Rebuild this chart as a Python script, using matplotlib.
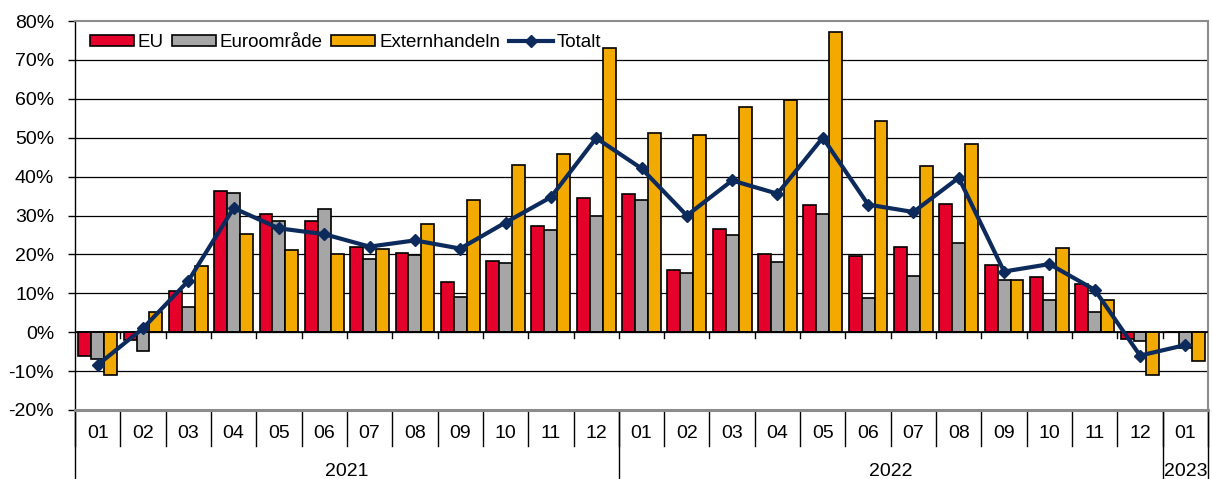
import matplotlib
matplotlib.use("Agg")
import matplotlib.pyplot as plt
from matplotlib.patches import Patch
from matplotlib.lines import Line2D
import matplotlib.transforms as mtransforms

plt.rcParams['font.family'] = ['Liberation Sans', 'DejaVu Sans']

months = ["01", "02", "03", "04", "05", "06", "07", "08", "09", "10", "11", "12",
          "01", "02", "03", "04", "05", "06", "07", "08", "09", "10", "11", "12",
          "01"]
years = ["2021", "2022", "2023"]
year_counts = [12, 12, 1]

eu = [-6.1, -2.0, 10.6, 36.2, 30.4, 28.5, 21.8, 20.3, 13.0, 18.3, 27.2, 34.6,
      35.5, 15.9, 26.6, 20.0, 32.6, 19.7, 22.0, 33.0, 17.3, 14.2, 12.4, -1.8,
      0.0]
euro = [-7.0, -4.8, 6.4, 35.8, 28.7, 31.6, 18.9, 19.8, 9.0, 17.9, 26.4, 29.9,
        33.9, 15.2, 25.0, 18.1, 30.4, 8.9, 14.5, 23.0, 13.3, 8.4, 5.2, -2.2,
        -4.1]
extern = [-11.1, 5.2, 17.1, 25.3, 21.2, 20.2, 21.5, 27.7, 34.1, 43.1, 45.8, 73.0,
          51.2, 50.7, 57.8, 59.8, 77.2, 54.2, 42.6, 48.5, 13.3, 21.7, 8.3, -11.0,
          -7.3]
totalt = [-8.4, 1.0, 13.2, 31.9, 26.7, 25.2, 22.0, 23.6, 21.5, 28.2, 34.7, 49.9,
          42.1, 30.0, 39.0, 35.6, 50.0, 32.8, 30.9, 39.7, 15.6, 17.5, 10.9, -6.0,
          -3.3]

C_EU = "#E4002B"
C_EURO = "#A6A6A6"
C_EXT = "#F2A900"
C_TOT = "#0C2A5C"

W, H = 1213, 479
fig = plt.figure(figsize=(W / 100, H / 100), dpi=100)
left, right, top, bottom = 75, 1208, 21, 410
ax = fig.add_axes([left / W, 1 - bottom / H, (right - left) / W, (bottom - top) / H])

n = len(months)
x = list(range(n))
bw = 0.285
ax.bar([i - bw for i in x], eu, width=bw, color=C_EU, edgecolor="black", linewidth=1.2, zorder=3)
ax.bar(x, euro, width=bw, color=C_EURO, edgecolor="black", linewidth=1.2, zorder=3)
ax.bar([i + bw for i in x], extern, width=bw, color=C_EXT, edgecolor="black", linewidth=1.2, zorder=3)
ax.plot(x, totalt, color=C_TOT, linewidth=3, marker="D", markersize=6, zorder=5)

ax.set_xlim(-0.5, n - 0.5)
ax.set_ylim(-20, 80)
yt = list(range(-20, 81, 10))
ax.set_yticks(yt)
ax.set_yticklabels([f"{v}%" for v in yt], fontsize=14)
ax.tick_params(axis="y", direction="out", length=5, width=1, pad=10)
ax.set_xticks([])

for v in yt:
    if v in (-20, 80):
        continue
    ax.axhline(v, color="black", linewidth=0.9, zorder=1)
ax.axhline(0, color="black", linewidth=1.2, zorder=4)

for s in ["top", "right", "bottom"]:
    ax.spines[s].set_color("#8c8c8c")
    ax.spines[s].set_linewidth(1.5)
ax.spines["bottom"].set_linewidth(2.2)
ax.spines["left"].set_color("black")
ax.spines["left"].set_linewidth(1)

# small ticks at the zero line between categories
for b in range(1, n):
    ax.plot([b - 0.5, b - 0.5], [0, -1.4], color="black", linewidth=1, zorder=4)

# multi-level category axis below
trans = mtransforms.blended_transform_factory(ax.transData, fig.transFigure)
y_axis_bottom = 1 - bottom / H
y_month_end = 1 - 446 / H
y_month_lbl = 1 - 434 / H
y_year_lbl = 1 - 471 / H
for b in range(0, n + 1):
    ax.plot([b - 0.5, b - 0.5], [y_axis_bottom, y_month_end], color="black", linewidth=1,
            transform=trans, clip_on=False)
for i, m in enumerate(months):
    ax.text(i, y_month_lbl, m, transform=trans, ha="center", va="center", fontsize=14)
start = 0
bounds = [0]
for yr, cnt in zip(years, year_counts):
    ax.text(start + (cnt - 1) / 2, y_year_lbl, yr, transform=trans, ha="center", va="center", fontsize=14)
    start += cnt
    bounds.append(start)
for b in bounds:
    ax.plot([b - 0.5, b - 0.5], [y_axis_bottom, 0], color="black", linewidth=1,
            transform=trans, clip_on=False)

handles = [Patch(facecolor=C_EU, edgecolor="black", linewidth=1.2),
           Patch(facecolor=C_EURO, edgecolor="black", linewidth=1.2),
           Patch(facecolor=C_EXT, edgecolor="black", linewidth=1.2),
           Line2D([0], [0], color=C_TOT, linewidth=3, marker="D", markersize=6)]
leg = ax.legend(handles, ["EU", "Euroområde", "Externhandeln", "Totalt"], ncol=4,
                loc="upper left", bbox_to_anchor=(0.003, 0.995), frameon=False, fontsize=13.5,
                handlelength=2.35, handleheight=0.5, handletextpad=0.2, columnspacing=0.45,
                borderaxespad=0.2)
leg.set_zorder(10)

fig.savefig("out.png", dpi=100)
